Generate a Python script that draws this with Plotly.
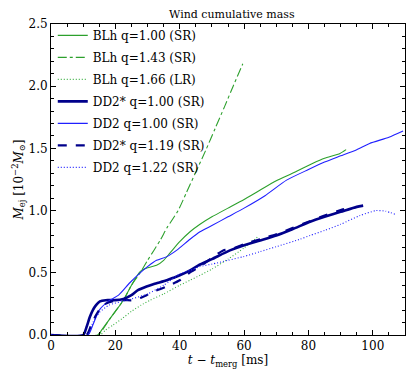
import plotly.graph_objects as go

# --- data (t - t_merg [ms], M_ej [1e-2 Msun]) ---
blh_100_t = [0, 14.5, 16, 18, 20, 22.5, 25, 27.7, 30, 32.8, 35, 37, 40, 43.2, 46.3, 50, 55, 60, 64,
             70, 75, 81.4, 85, 89.8, 91.7]
blh_100_m = [0, 0, 0.05, 0.12, 0.19, 0.28, 0.40, 0.51, 0.54, 0.56, 0.60, 0.66, 0.75, 0.83, 0.89,
             0.95, 1.02, 1.09, 1.15, 1.24, 1.30, 1.38, 1.42, 1.46, 1.49]

blh_143_t = [0, 14.5, 16, 18, 20, 22.5, 25, 27.7, 30, 33.9, 36, 39.5, 42, 45, 48, 51, 54, 56.6, 59.6]
blh_143_m = [0, 0, 0.04, 0.12, 0.19, 0.28, 0.40, 0.50, 0.60, 0.76, 0.86, 1.0, 1.14, 1.31, 1.48,
             1.66, 1.84, 2.0, 2.18]

blh_166_t = [0, 15.2, 17, 19.3, 22, 25, 28, 30.8, 35, 40, 43.2, 46.3, 50, 55, 60, 64.3]
blh_166_m = [0, 0, 0.04, 0.08, 0.13, 0.19, 0.24, 0.28, 0.33, 0.40, 0.44, 0.48, 0.53, 0.61, 0.70, 0.79]

dd2s_100_t = [0, 10, 11, 12, 13, 14, 15.2, 17, 20, 22.5, 25, 27, 29.7, 32, 36, 38, 40, 43.2, 45.8,
              50, 55.6, 59.8, 65, 70, 75, 80.5, 85, 90, 95, 97]
dd2s_100_m = [0, 0, 0.06, 0.14, 0.20, 0.24, 0.27, 0.28, 0.28, 0.29, 0.32, 0.36, 0.39, 0.41, 0.44,
              0.46, 0.48, 0.52, 0.56, 0.61, 0.68, 0.72, 0.76, 0.80, 0.85, 0.91, 0.95, 0.99, 1.03, 1.04]

dd2_100_t = [0, 11.5, 13, 15, 18.3, 21, 24.5, 27.7, 30, 32.8, 36, 39, 43.2, 46.3, 50, 55, 60, 66.5,
             73.2, 80, 85, 90, 95, 99, 105, 109.4]
dd2_100_m = [0, 0, 0.08, 0.20, 0.28, 0.32, 0.42, 0.50, 0.55, 0.60, 0.63, 0.68, 0.77, 0.83, 0.88,
             0.95, 1.02, 1.12, 1.245, 1.33, 1.39, 1.44, 1.49, 1.54, 1.59, 1.64]

dd2s_119_t = [0, 11, 12.5, 14, 16.2, 19, 22.5, 25.6, 28, 29.7, 32, 36, 40, 43, 46.3, 50, 53.5, 56,
              60, 65, 70, 75, 80, 85, 90.7, 92]
dd2s_119_m = [0, 0, 0.08, 0.16, 0.24, 0.27, 0.28, 0.28, 0.30, 0.32, 0.35, 0.39, 0.44, 0.50, 0.55,
              0.62, 0.68, 0.69, 0.73, 0.77, 0.81, 0.86, 0.91, 0.96, 1.01, 1.02]

dd2_122_t = [0, 11.5, 13, 15, 18, 22, 25, 30, 35, 40, 43.2, 46.3, 50, 55, 59.8, 65, 70, 77.4, 80.5,
             85, 90, 96, 101, 104, 107]
dd2_122_m = [0, 0, 0.10, 0.18, 0.24, 0.27, 0.29, 0.33, 0.40, 0.49, 0.52, 0.55, 0.57, 0.60, 0.63,
             0.67, 0.71, 0.77, 0.80, 0.84, 0.89, 0.96, 1.0, 0.995, 0.97]

GREEN = '#2ca02c'
LGREEN = '#3cb043'
NAVY = '#00008b'
BLUE = '#2020ff'
DOTS = '1px,2px'

series = [
    ('BLh q=1.00 (SR)', blh_100_t, blh_100_m, GREEN, 1.1, 'solid'),
    ('BLh q=1.43 (SR)', blh_143_t, blh_143_m, GREEN, 1.1, 'dashdot'),
    ('BLh q=1.66 (LR)', blh_166_t, blh_166_m, LGREEN, 1.1, DOTS),
    ('DD2* q=1.00 (SR)', dd2s_100_t, dd2s_100_m, NAVY, 2.6, 'solid'),
    ('DD2 q=1.00 (SR)', dd2_100_t, dd2_100_m, BLUE, 1.1, 'solid'),
    ('DD2* q=1.19 (SR)', dd2s_119_t, dd2s_119_m, NAVY, 2.2, 'dash'),
    ('DD2 q=1.22 (SR)', dd2_122_t, dd2_122_m, BLUE, 1.1, DOTS),
]

fig = go.Figure()
for i, (name, t, m, col, w, dash) in enumerate(series):
    # one legend group per trace so tracegroupgap spreads the rows like the reference
    fig.add_trace(go.Scatter(
        x=t, y=m, mode='lines', name=name, legendgroup=f'g{i}',
        line=dict(color=col, width=w, dash=dash, shape='spline', smoothing=0.6)
    ))

SERIF = 'DejaVu Serif'

axis_common = dict(
    showgrid=False, zeroline=False, showline=True, linecolor='black', linewidth=1,
    mirror='allticks', ticks='inside', ticklen=5, tickcolor='black', automargin=False,
    tickfont=dict(family=SERIF, size=12, color='black'),
)

# page has an 8px body margin, so the figure is a bit smaller than the window
fig.update_layout(
    width=407, height=373,
    margin=dict(l=43, r=10, t=16, b=46),
    plot_bgcolor='white', paper_bgcolor='white',
    font=dict(family=SERIF, color='black', size=11),
    title=dict(text='Wind cumulative mass', x=0.55, xanchor='center', y=0.995, yanchor='top',
               font=dict(family=SERIF, size=11)),
    legend=dict(x=0.005, y=1.01, xanchor='left', yanchor='top', bgcolor='rgba(0,0,0,0)',
                font=dict(family=SERIF, size=12), tracegroupgap=3, itemwidth=30),
    showlegend=True,
)
fig.update_xaxes(range=[0, 110], dtick=20,
                 title=dict(text='<i>t</i> − <i>t</i><sub>merg</sub> [ms]', standoff=2,
                            font=dict(family=SERIF, size=12)),
                 minor=dict(dtick=5, ticks='inside', ticklen=3, tickcolor='black'), **axis_common)
fig.update_yaxes(range=[0, 2.5], dtick=0.5, tickformat='.1f',
                 title=dict(text='<i>M</i><sub>ej</sub> [10<sup>−2</sup><i>M</i><sub>⊙</sub>]',
                            standoff=2, font=dict(family=SERIF, size=12)),
                 minor=dict(dtick=0.1, ticks='inside', ticklen=3, tickcolor='black'), **axis_common)

fig.write_html("out.html")
